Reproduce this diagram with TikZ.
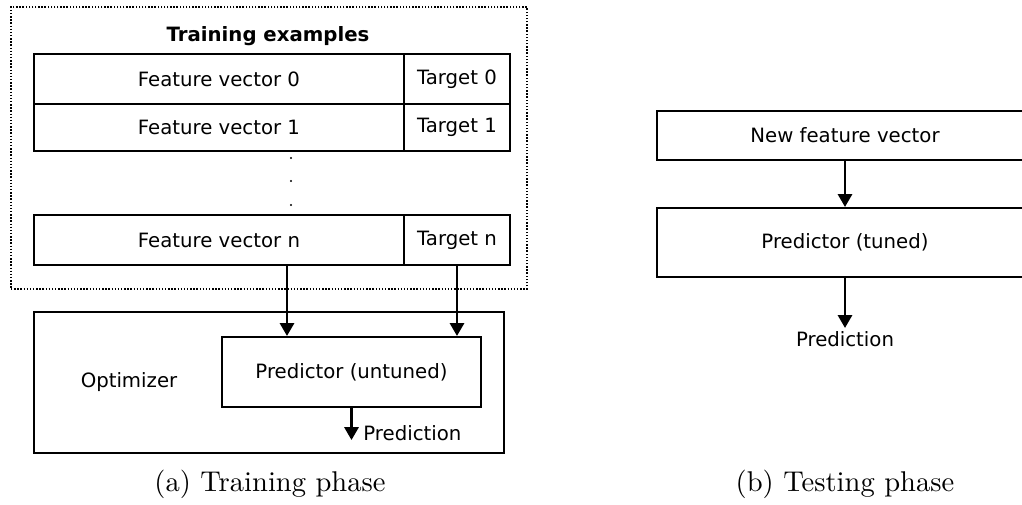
\documentclass[tikz,border=0pt]{standalone}
\usepackage{fontspec}
\usepackage{tikz}
\usetikzlibrary{arrows.meta}
\newfontfamily\dejavu{DejaVu Sans}
\newcommand\px{0.35pt}

\begin{document}
\begin{tikzpicture}[x=\px, y=-\px,
    box/.style={draw, line width=0.75pt, inner sep=0pt, font=\dejavu\fontsize{6.9}{8}\selectfont},
    lbl/.style={inner sep=1pt, font=\dejavu\fontsize{6.9}{8}\selectfont},
    dotframe/.style={draw, line width=0.6pt, dash pattern=on 0.5pt off 0.6pt, inner sep=0pt},
    arr/.style={line width=0.75pt, -{Triangle[width=5pt,length=4.5pt]}},
    captext/.style={font=\fontsize{10}{12}\selectfont}]
      \useasboundingbox (0,0) rectangle (1022,505);
      \clip (0,0) rectangle (1022,505);
      % (a) training
      \node[dotframe, minimum width=516*\px, minimum height=282*\px] (trainset) at (269,148) {};
      \node[lbl, font=\dejavu\bfseries\fontsize{6.9}{8}\selectfont] (title) at (268,36) {Training examples};
      \foreach \i/\y/\h in {0/79/50, 1/127.5/47, n/240/50} {
        \node[box, minimum width=370*\px, minimum height=\h*\px] (fv\i) at (219,\y) {Feature vector \i};
        \node[box, minimum width=106*\px, minimum height=\h*\px] (t\i)  at (457,\y) {Target \i};
      }
      \foreach \y in {158,181,205}
        \fill (291,\y) circle (0.4pt);
      \node[box, minimum width=470*\px, minimum height=141*\px] (opt) at (269,382.5) {};
      \node[lbl]  (optlbl) at (129,382) {Optimizer};
      \node[box, minimum width=259*\px, minimum height=70*\px] (predu) at (351.5,372) {Predictor (untuned)};
      \draw[arr] ([xshift=68*\px]fvn.south) -- ([xshift=68*\px]fvn.south |- predu.north);
      \draw[arr] (tn.south) -- (tn.south |- predu.north);
      \coordinate (pout) at (351.5,440);
      \draw[arr] (predu.south) -- (pout);
      \node[lbl, anchor=west] (predulbl) at (360,433) {Prediction};
      % (b) testing
      \node[box, minimum width=376*\px, minimum height=49*\px] (newfv) at (845,135.5) {New feature vector};
      \node[box, minimum width=376*\px, minimum height=69*\px] (predt) at (845,242.5) {Predictor (tuned)};
      \node[lbl] (predtlbl) at (845,339) {Prediction};
      \draw[arr] (newfv) -- (predt);
      \draw[arr] (predt) -- (predtlbl);
      % captions
      \node[captext] (capa) at (270,484) {(a) Training phase};
      \node[captext] (capb) at (845,484) {(b) Testing phase};
    \end{tikzpicture}
\end{document}
